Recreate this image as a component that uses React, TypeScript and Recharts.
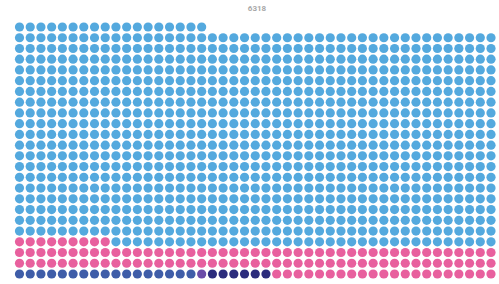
import { ScatterChart, Scatter, XAxis, YAxis } from 'recharts';

// waffle: each dot stands for 6 units, total 6318
const groups = ['Group A', 'Group B', 'Group C', 'Group D', 'Group E'];
const values = [102, 6, 36, 720, 5454];
const colors = ['#3F5DA8', '#6B4CA8', '#2C2C7C', '#E8609E', '#54A9DE'];
const total = 6318;
const unitPerDot = 6;
const columns = 45;
const rows = 24;

function buildDots() {
  let idx = 0;
  return groups.map((name, g) => {
    const n = Math.round(values[g] / unitPerDot);
    const pts = [];
    for (let i = 0; i < n; i++) {
      pts.push({ col: idx % columns, row: Math.floor(idx / columns), name });
      idx++;
    }
    return pts;
  });
}

const Dot = (props: any) => {
  const { cx, cy, fill } = props;
  return <circle cx={cx} cy={cy} r={4.6} fill={fill} />;
};

export default function App() {
  const dots = buildDots();
  return (
    <div style={{ position: 'absolute', left: 0, top: 0, width: 499, height: 284, background: '#fff' }}>
      <div
        style={{
          position: 'absolute',
          top: 4,
          left: 0,
          width: 514,
          textAlign: 'center',
          fontFamily: 'Roboto, sans-serif',
          fontSize: 8,
          fontWeight: 'bold',
          color: '#a8a8a8',
        }}
      >
        {total}
      </div>
      <ScatterChart width={499} height={284} margin={{ top: 27, right: 8, bottom: 10, left: 19.5 }}>
        <XAxis type="number" dataKey="col" domain={[0, columns - 1]} hide />
        <YAxis type="number" dataKey="row" domain={[0, rows - 1]} hide />
        {dots.map((pts, g) => (
          <Scatter
            key={groups[g]}
            name={groups[g]}
            data={pts}
            fill={colors[g]}
            shape={<Dot />}
            isAnimationActive={false}
          />
        ))}
      </ScatterChart>
    </div>
  );
}
